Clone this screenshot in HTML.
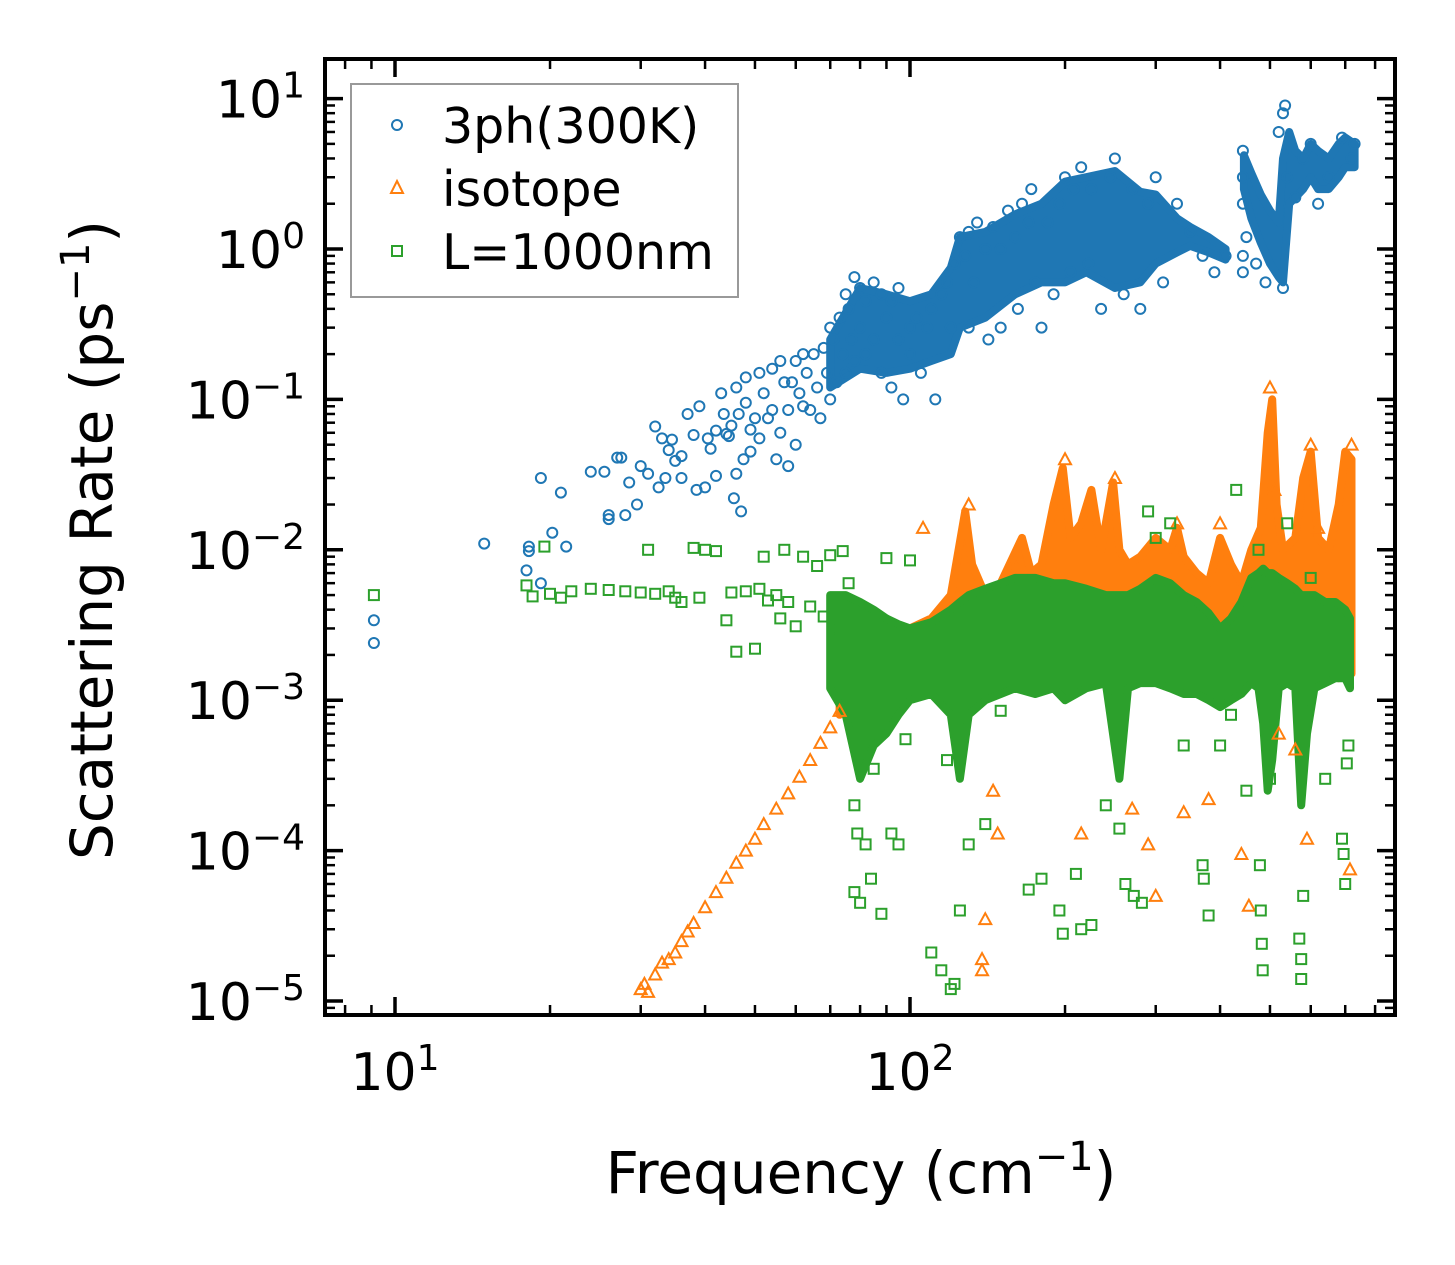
<!DOCTYPE html>
<html><head><meta charset="utf-8">
<style>
html,body{margin:0;padding:0;background:#fff;}
svg{display:block;font-family:"DejaVu Sans","Liberation Sans",sans-serif;}
</style></head>
<body>
<svg id="chart" width="1455" height="1265" viewBox="0 0 1455 1265" xmlns="http://www.w3.org/2000/svg">
<defs><clipPath id="plotclip"><rect x="325" y="59" width="1070" height="956"/></clipPath></defs>
<rect x="0" y="0" width="1455" height="1265" fill="#fff"/>
<g id="bands" clip-path="url(#plotclip)"></g>
<g id="marks" clip-path="url(#plotclip)"></g>
<g id="axes"></g>
<g id="legend">
  <rect x="351" y="84" width="387" height="213" fill="#fff" fill-opacity="0.8" stroke="#999" stroke-width="2"/>
  <circle cx="397" cy="125" r="5" fill="none" stroke="#1f77b4" stroke-width="2"/>
  <text x="442" y="143" font-size="49">3ph(300K)</text>
  <polygon points="397,181 403,193 391,193" fill="none" stroke="#ff7f0e" stroke-width="2"/>
  <text x="442" y="206" font-size="49">isotope</text>
  <rect x="392" y="246" width="10" height="10" fill="none" stroke="#2ca02c" stroke-width="2"/>
  <text x="442" y="269" font-size="49">L=1000nm</text>
</g>
<text x="861" y="1193" font-size="58" text-anchor="middle">Frequency (cm<tspan baseline-shift="super" font-size="40">−1</tspan>)</text>
<text transform="translate(112,540) rotate(-90)" font-size="58" text-anchor="middle">Scattering Rate (ps<tspan baseline-shift="super" font-size="40">−1</tspan>)</text>
</svg>
<script>
// ---- data (freq cm^-1, rate ps^-1) ----
const threePhPoints = [[9.1,0.0034],[9.1,0.0024],[14.9,0.011],[18,0.0073],[18.2,0.0098],[18.2,0.0105],[19.2,0.006],[19.2,0.030],[20.2,0.013],[21,0.024],[21.5,0.0105],[24,0.033],[25.5,0.033],[26,0.017],[26,0.016],[27,0.041],[27.5,0.041],[28,0.017],[28.5,0.028],[29.5,0.020],[30,0.036],[31,0.032],[32,0.066],[32.5,0.026],[33,0.055],[33.5,0.030],[34,0.046],[34.5,0.054],[35,0.039],[36,0.030],[36,0.042],[37,0.080],[38,0.058],[38.5,0.025],[39,0.090],[40,0.026],[40.5,0.055],[41,0.047],[42,0.062],[42,0.031],[43,0.110],[43.5,0.080],[44,0.059],[44.5,0.057],[45,0.067],[45.5,0.022],[46,0.12],[46,0.032],[46.5,0.080],[47,0.018],[47.5,0.040],[48,0.14],[48,0.095],[49,0.063],[49,0.045],[50,0.075],[51,0.15],[51,0.055],[52,0.11],[53,0.075],[54,0.16],[54,0.085],[55,0.040],[56,0.18],[56,0.060],[57,0.13],[58,0.085],[58,0.036],[59,0.13],[60,0.18],[60,0.050],[61,0.11],[62,0.20],[62,0.090],[63,0.15],[64,0.085],[65,0.20],[66,0.12],[67,0.075],[68,0.22],[69,0.15],[70,0.30],[70,0.10],[71,0.25],[72,0.13],[73,0.35],[74,0.20],[75,0.50],[75,0.15],[76,0.40],[77,0.25],[78,0.65],[78,0.18],[80,0.55],[80,0.30],[82,0.45],[82,0.20],[85,0.60],[85,0.25],[88,0.50],[88,0.15],[90,0.35],[92,0.45],[92,0.12],[95,0.25],[95,0.55],[97,0.10],[100,0.30],[100,0.20],[103,0.35],[105,0.15],[108,0.30],[110,0.40],[112,0.10],[115,0.50],[118,0.60],[120,0.30],[122,0.80],[125,1.2],[128,0.9],[130,1.3],[130,0.3],[133,0.6],[135,1.5],[140,1.0],[142,0.25],[145,1.4],[150,1.0],[150,0.3],[155,1.8],[160,1.2],[162,0.4],[165,2.0],[170,1.5],[172,2.5],[175,0.6],[180,0.3],[185,1.5],[190,0.5],[195,2.0],[200,3.0],[205,0.7],[208,2.5],[215,3.5],[222,0.8],[225,2.5],[235,0.4],[245,3.0],[250,4.0],[260,0.5],[270,2.5],[280,0.4],[290,2.0],[300,3.0],[310,0.6],[330,2.0],[350,1.3],[370,0.9],[390,0.7],[410,0.9],[443,4.5],[443,3.0],[443,2.0],[443,0.9],[443,0.7],[450,1.2],[470,0.8],[490,0.6],[530,0.55],[520,6.0],[530,8.0],[535,9.0],[540,3.0],[560,2.2],[580,4.0],[600,5.0],[620,2.0],[650,3.0],[690,5.5],[720,4.0],[730,5.0]];
const threePhBandFreq = [70,80,90,100,110,120,125,140,160,180,200,220,250,280,300,330,350,380,410];
const threePhBandLo   = [0.12,0.16,0.15,0.16,0.18,0.2,0.3,0.35,0.5,0.6,0.6,0.7,0.55,0.6,0.8,0.95,1.05,0.95,0.85];
const threePhBandHi   = [0.25,0.55,0.5,0.45,0.5,0.75,1.2,1.3,1.7,2.0,2.8,3.0,3.3,2.4,2.3,1.6,1.4,1.2,1.0];
const threePhBand2Freq = [445,460,480,500,520,530,545,560,580,600,620,650,680,700,730];
const threePhBand2Lo   = [2.5,1.6,1.1,0.8,0.65,0.6,2.0,2.2,2.5,3.0,2.5,2.5,3.0,3.5,3.5];
const threePhBand2Hi   = [4.2,3.2,2.3,1.8,1.5,4.0,6.0,4.5,4.0,5.0,4.5,4.0,5.0,5.5,5.0];

const isotopePoints = [[30,1.2e-5],[30.5,1.3e-5],[31,1.15e-5],[32,1.5e-5],[33,1.8e-5],[34,1.9e-5],[35,2.1e-5],[36,2.5e-5],[37,2.9e-5],[38,3.3e-5],[40,4.2e-5],[42,5.3e-5],[44,6.6e-5],[46,8.3e-5],[48,1.0e-4],[50,1.2e-4],[52,1.5e-4],[55,1.9e-4],[58,2.4e-4],[61,3.1e-4],[64,4.0e-4],[67,5.2e-4],[70,6.6e-4],[73,8.5e-4],[106,0.014],[130,0.020],[140,3.5e-5],[138,1.9e-5],[138,1.6e-5],[145,2.5e-4],[148,1.3e-4],[160,0.0083],[200,0.040],[215,1.3e-4],[250,0.030],[270,1.9e-4],[290,1.1e-4],[300,5e-5],[330,0.015],[340,1.8e-4],[380,2.2e-4],[400,0.015],[440,9.5e-5],[455,4.3e-5],[500,0.12],[510,0.025],[520,6e-4],[560,4.7e-4],[590,1.2e-4],[600,0.050],[620,0.014],[715,7.5e-5],[720,0.050]];
const isotopeBandFreq = [73,80,90,100,110,120,128,132,140,150,165,172,180,190,198,205,215,225,235,248,255,265,280,300,320,330,340,360,380,400,420,440,460,480,495,505,515,530,560,580,600,620,650,680,700,720];
const isotopeBandLo   = [8e-4,1.2e-3,1.2e-3,1.1e-3,1.1e-3,1.2e-3,1.3e-3,1.3e-3,1.4e-3,1.4e-3,1.3e-3,1.5e-3,1.4e-3,1.3e-3,1.4e-3,1.5e-3,1.4e-3,1.4e-3,1.5e-3,1.4e-3,1.3e-3,1.3e-3,1.4e-3,1.5e-3,1.5e-3,1.6e-3,1.5e-3,1.3e-3,1.2e-3,1.0e-3,1.1e-3,1.2e-3,1.4e-3,1.5e-3,1.5e-3,1.5e-3,1.5e-3,1.4e-3,1.2e-3,1.5e-3,1.5e-3,1.4e-3,1.5e-3,1.4e-3,1.5e-3,1.5e-3];
const isotopeBandHi   = [1.2e-3,2.5e-3,3e-3,3e-3,3.5e-3,5e-3,0.018,0.008,5e-3,6e-3,0.012,0.007,0.008,0.020,0.035,0.012,0.015,0.025,0.010,0.028,0.010,0.008,0.009,0.012,0.010,0.014,0.009,0.007,0.006,0.012,0.008,0.006,0.010,0.014,0.06,0.10,0.020,0.010,0.012,0.030,0.045,0.012,0.010,0.020,0.045,0.040];

const boundaryPoints = [[9.1,0.0050],[18,0.0058],[18.5,0.0049],[19.5,0.0105],[20,0.0051],[21,0.0048],[22,0.0053],[24,0.0055],[26,0.0054],[28,0.0053],[30,0.0052],[31,0.0100],[32,0.0051],[34,0.0053],[35,0.0048],[36,0.0045],[38,0.0103],[39,0.0048],[40,0.0100],[42,0.0098],[44,0.0034],[45,0.0052],[46,0.0021],[48,0.0053],[50,0.0022],[51,0.0055],[52,0.0090],[53,0.0046],[55,0.0050],[56,0.0035],[57,0.0100],[58,0.0045],[60,0.0031],[62,0.0090],[64,0.0042],[66,0.0078],[68,0.0036],[70,0.0092],[72,0.0030],[74,0.0098],[76,0.0060],[78,2e-4],[78,5.3e-5],[79,1.3e-4],[80,4.5e-5],[82,1.1e-4],[84,6.5e-5],[85,3.5e-4],[88,3.8e-5],[90,0.0088],[92,1.3e-4],[95,1.1e-4],[98,5.5e-4],[100,0.0085],[110,2.1e-5],[115,1.6e-5],[118,4e-4],[120,1.2e-5],[122,1.3e-5],[125,4e-5],[130,1.1e-4],[140,1.5e-4],[150,8.5e-4],[170,5.5e-5],[180,6.5e-5],[195,4e-5],[198,2.8e-5],[210,7e-5],[215,3e-5],[225,3.2e-5],[240,2e-4],[255,1.4e-4],[262,6e-5],[272,5e-5],[282,4.5e-5],[290,0.018],[300,0.012],[320,0.015],[340,5e-4],[370,8e-5],[372,6.5e-5],[380,3.7e-5],[400,5e-4],[420,8e-4],[430,0.025],[450,2.5e-4],[475,0.010],[478,8e-5],[480,4e-5],[482,2.4e-5],[484,1.6e-5],[500,3e-4],[540,0.015],[570,2.6e-5],[575,1.9e-5],[575,1.4e-5],[580,5e-5],[600,0.0065],[640,3e-4],[690,1.2e-4],[695,9.5e-5],[700,6e-5],[700,0.0017],[705,3.8e-4],[710,5e-4]];
const boundaryBandFreq = [70,75,80,85,90,95,100,110,120,125,130,140,150,160,175,190,200,220,240,255,265,280,300,320,340,360,380,400,420,440,460,475,485,495,505,520,540,560,575,590,610,640,670,700,715];
const boundaryBandLo   = [1.2e-3,8e-4,3e-4,5e-4,6e-4,8e-4,1e-3,1.1e-3,8e-4,3e-4,8e-4,1e-3,1.1e-3,1.2e-3,1.1e-3,1.2e-3,1e-3,1.2e-3,1.3e-3,3e-4,1.2e-3,1.3e-3,1.3e-3,1.2e-3,1.1e-3,1.1e-3,1.0e-3,9e-4,1.0e-3,1.1e-3,1.3e-3,1.2e-3,7e-4,2.5e-4,4e-4,1.2e-3,1.3e-3,1.2e-3,2e-4,6e-4,1.2e-3,1.3e-3,1.4e-3,1.4e-3,1.2e-3];
const boundaryBandHi   = [5e-3,5e-3,4.5e-3,4e-3,3.5e-3,3.2e-3,3e-3,3.3e-3,4e-3,4.5e-3,5e-3,5.5e-3,6e-3,6.5e-3,6.5e-3,6e-3,6e-3,5.5e-3,5e-3,5e-3,5e-3,5.5e-3,6.5e-3,6e-3,5e-3,4.5e-3,3.8e-3,3e-3,3.5e-3,4.5e-3,6.5e-3,7e-3,7.5e-3,7e-3,7e-3,6.5e-3,6e-3,5.5e-3,5e-3,5e-3,5e-3,4.5e-3,4.5e-3,4e-3,3.5e-3];

const xTickLabels = ['1','2'];
const yTickExps = ['1','0','−1','−2','−3','−4','−5'];

// ---- axis functions ----
const X = f => 395 + 515 * (Math.log10(f) - 1);
const Y = v => 249 - 150.4 * Math.log10(v);
const NS = 'http://www.w3.org/2000/svg';
function mk(tag, attrs, parent){ const e=document.createElementNS(NS,tag); for(const k in attrs) e.setAttribute(k,attrs[k]); parent.appendChild(e); return e; }

const bands = document.getElementById('bands');
const marks = document.getElementById('marks');
const axes = document.getElementById('axes');

function band(freq, lo, hi, color, name){
  let d = 'M' + freq.map((f,i)=>X(f).toFixed(1)+','+Y(hi[i]).toFixed(1)).join(' L');
  for(let i=freq.length-1;i>=0;i--) d += ' L'+X(freq[i]).toFixed(1)+','+Y(lo[i]).toFixed(1);
  d += ' Z';
  const p = mk('path',{d:d, fill:color, stroke:color, 'stroke-width':8, 'stroke-linejoin':'round'}, bands);
  
  
}
band(threePhBandFreq, threePhBandLo, threePhBandHi, '#1f77b4', 'band-3ph');
band(threePhBand2Freq, threePhBand2Lo, threePhBand2Hi, '#1f77b4', 'band-3ph-high');
band(isotopeBandFreq, isotopeBandLo, isotopeBandHi, '#ff7f0e', 'band-isotope');
band(boundaryBandFreq, boundaryBandLo, boundaryBandHi, '#2ca02c', 'band-boundary');

threePhPoints.forEach(([f,v])=>{
  const c = mk('circle',{cx:X(f).toFixed(1), cy:Y(v).toFixed(1), r:5, fill:'none', stroke:'#1f77b4','stroke-width':2}, marks);
  
  
});
isotopePoints.forEach(([f,v])=>{
  const x=X(f), y=Y(v);
  const p = mk('polygon',{points:`${x},${y-6} ${x+6},${y+5} ${x-6},${y+5}`, fill:'none', stroke:'#ff7f0e','stroke-width':2}, marks);
  
  
});
boundaryPoints.forEach(([f,v])=>{
  const r = mk('rect',{x:(X(f)-5).toFixed(1), y:(Y(v)-5).toFixed(1), width:10, height:10, fill:'none', stroke:'#2ca02c','stroke-width':2}, marks);
  
  
});

// ---- axes ----
const L=325, R=1395, T=59, B=1015;
const frame = mk('rect',{x:L,y:T,width:R-L,height:B-T,fill:'none',stroke:'#000','stroke-width':4}, axes);


function tick(x1,y1,x2,y2,w){ const t=mk('line',{x1,y1,x2,y2,stroke:'#000','stroke-width':w},axes);
  
   }
for(let dec=0; dec<=2; dec++){
  for(let m=1;m<=9;m++){
    const f = m*Math.pow(10,dec); const x=X(f);
    if(x<L+1||x>R-1) continue;
    const len = m===1?18:10, w=m===1?3.5:2.5;
    tick(x,B,x,B-len,w); tick(x,T,x,T+len,w);
  }
}
xTickLabels.forEach((e,i)=>{
  const x = X(Math.pow(10, parseInt(e)));
  const t = mk('text',{x:x, y:1090, 'font-size':52, 'text-anchor':'middle'}, axes);
  
  
  t.innerHTML = '10<tspan baseline-shift="super" font-size="36">'+e+'</tspan>';
});
for(let dec=-6; dec<=1; dec++){
  for(let m=1;m<=9;m++){
    const v = m*Math.pow(10,dec); const y=Y(v);
    if(y<T+1||y>B-1) continue;
    const len = m===1?18:10, w=m===1?3.5:2.5;
    tick(L,y,L+len,y,w); tick(R,y,R-len,y,w);
  }
}
yTickExps.forEach(e=>{
  const v = Math.pow(10, parseInt(e.replace('−','-')));
  const t = mk('text',{x:305, y:Y(v)+19, 'font-size':52, 'text-anchor':'end'}, axes);
  
  
  t.innerHTML = '10<tspan baseline-shift="super" font-size="36">'+e+'</tspan>';
});
</script>
</body></html>
